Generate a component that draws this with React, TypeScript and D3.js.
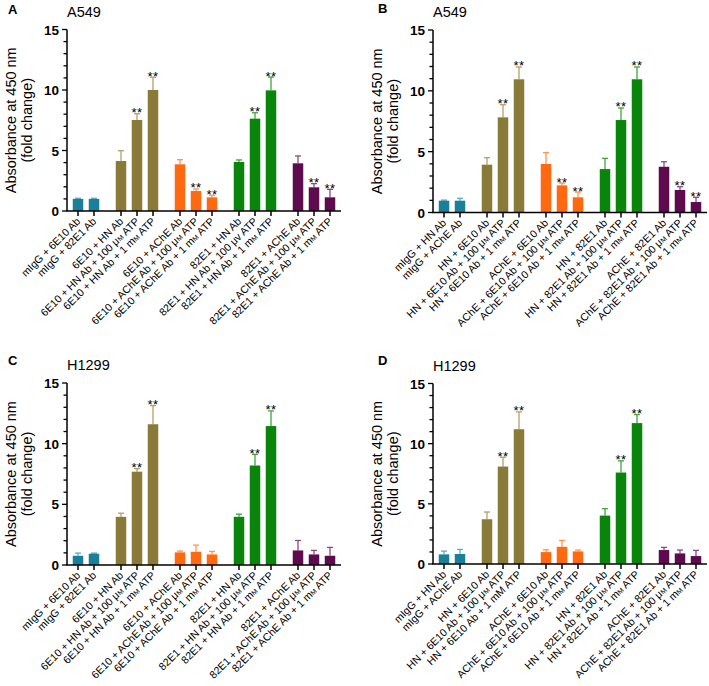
import React from "react";
import * as d3 from "d3";

const groupSizes = [2, 3, 3, 3, 3];
const groupColors = ["#1a7f98", "#8a7a3a", "#ff6a10", "#0a850c", "#5e0a4e"];
const errColors = ["#5aaec2", "#b0a168", "#ff9450", "#3fa53f", "#8b4a7f"];
const yTicks = [0, 5, 10, 15];

const labelsA = [
  "mIgG + 6E10 Ab", "mIgG + 82E1 Ab",
  "6E10 + HN Ab", "6E10 + HN Ab + 100 μ{m} ATP", "6E10 + HN Ab + 1 m{m} ATP",
  "6E10 + AChE Ab", "6E10 + AChE Ab + 100 μ{m} ATP", "6E10 + AChE Ab + 1 m{m} ATP",
  "82E1 + HN Ab", "82E1 + HN Ab + 100 μv ATP", "82E1 + HN Ab + 1 m{m} ATP",
  "82E1 + AChE Ab", "82E1 + AChE Ab + 100 μ{m} ATP", "82E1 + AChE Ab + 1 m{m} ATP",
];
const labelsC = [
  "mIgG + 6E10 Ab", "mIgG + 82E1 Ab",
  "6E10 + HN Ab", "6E10 + HN Ab + 100 μ{m} ATP", "6E10 + HN Ab + 1 m{m} ATP",
  "6E10 + AChE Ab", "6E10 + AChE Ab + 100 μ{m} ATP", "6E10 + AChE Ab + 1 m{m} ATP",
  "82E1 + HN Ab", "82E1 + HN Ab + 100 μ{m} ATP", "82E1 + HN Ab + 1 m{m} ATP",
  "82E1 + AChE Ab", "82E1 + AChE Ab + 100 μ{m} ATP", "82E1 + AChE Ab + 1 m{m} ATP",
];
const labelsB = [
  "mIgG + HN Ab", "mIgG + AChE Ab",
  "HN + 6E10 Ab", "HN + 6E10 Ab + 100 μ{m} ATP", "HN + 6E10 Ab + 1 m{m} ATP",
  "AChE + 6E10 Ab", "AChE + 6E10 Ab + 100 μ{m} ATP", "AChE + 6E10 Ab + 1 m{m} ATP",
  "HN + 82E1 Ab", "HN + 82E1 Ab + 100 μ{m} ATP", "HN + 82E1 Ab + 1 m{m} ATP",
  "AChE + 82E1 Ab", "AChE + 82E1 Ab + 100 μ{m} ATP", "AChE + 82E1 Ab + 1 m{m} ATP",
];
const labelsD = [
  "mIgG + HN Ab", "mIgG + AChE Ab",
  "HN + 6E10 Ab", "HN + 6E10 Ab + 100 μ{m} ATP", "HN + 6E10 Ab + 1 mM ATP",
  "AChE + 6E10 Ab", "AChE + 6E10 Ab + 100 μ{m} ATP", "AChE + 6E10 Ab + 1 m{m} ATP",
  "HN + 82E1 Ab", "HN + 82E1 Ab + 100 μ{m} ATP", "HN + 82E1 Ab + 1 m{m} ATP",
  "AChE + 82E1 Ab", "AChE + 82E1 Ab + 100 μ{m} ATP", "AChE + 82E1 Ab + 1 m{m} ATP",
];

const valuesA = [1.0, 1.0, 4.13, 7.52, 10.0, 3.86, 1.65, 1.13, 4.05, 7.63, 9.97, 3.94, 1.96, 1.13];
const errorsA = [0.05, 0.05, 0.85, 0.52, 1.05, 0.38, 0.17, 0.17, 0.17, 0.49, 1.1, 0.61, 0.3, 0.66];
const valuesB = [0.97, 0.97, 3.93, 7.82, 10.95, 3.99, 2.23, 1.25, 3.57, 7.6, 10.95, 3.76, 1.85, 0.86];
const errorsB = [0.05, 0.2, 0.57, 1.04, 1.01, 0.93, 0.19, 0.43, 0.88, 0.99, 1.01, 0.41, 0.27, 0.39];
const valuesC = [0.76, 0.93, 3.97, 7.69, 11.6, 1.04, 1.09, 0.87, 3.97, 8.2, 11.45, 1.2, 0.87, 0.76];
const errorsC = [0.22, 0.05, 0.3, 0.25, 1.54, 0.11, 0.55, 0.25, 0.22, 0.92, 1.25, 0.82, 0.33, 0.69];
const valuesD = [0.8, 0.83, 3.72, 8.1, 11.2, 0.99, 1.43, 1.05, 4.02, 7.6, 11.71, 1.16, 0.88, 0.66];
const errorsD = [0.27, 0.38, 0.6, 0.77, 1.44, 0.19, 0.53, 0.11, 0.58, 0.97, 0.71, 0.22, 0.28, 0.47];

const starsAB = [0, 0, 0, 1, 1, 0, 1, 1, 0, 1, 1, 0, 1, 1];
const starsCD = [0, 0, 0, 1, 1, 0, 0, 0, 0, 1, 1, 0, 0, 0];

const FONT = "'Liberation Sans', Arial, Helvetica, sans-serif";

function renderLabel(s: string) {
  const parts = s.split(/\{(.+?)\}/);
  return parts.map((p, i) =>
    i % 2 === 1 ? (
      <tspan key={i} style={{ fontVariant: "small-caps" }}>{p}</tspan>
    ) : (
      <tspan key={i}>{p}</tspan>
    )
  );
}

type PanelProps = {
  letter: string;
  title: string;
  labels: string[];
  values: number[];
  errors: number[];
  stars: number[];
  axisX: number;
  y0: number;
  yTop: number;
  letterX: number;
  letterY: number;
  titleY: number;
};

function Panel(p: PanelProps) {
  const y = d3.scaleLinear().domain([0, 15]).range([p.y0, p.yTop]);
  const gapFrac = 11 / 16;
  const slots: number[] = [];
  const groupOf: number[] = [];
  let idx = 0;
  groupSizes.forEach((n, g) => {
    for (let k = 0; k < n; k++) {
      slots.push(idx + g * gapFrac);
      groupOf.push(g);
      idx++;
    }
  });
  const maxSlot = slots[slots.length - 1];
  const x = d3.scaleLinear().domain([0, maxSlot]).range([p.axisX + 11, p.axisX + 263]);
  const barW = 10.5;
  const capW = 6;
  const axisEnd = p.axisX + 274;
  const minor = d3.range(0, 16, 1);
  const midY = (p.y0 + p.yTop) / 2;

  return (
    <g fontFamily={FONT}>
      <text x={p.letterX} y={p.letterY} fontSize={13} fontWeight="bold">{p.letter}</text>
      <text x={p.axisX} y={p.titleY} fontSize={14.5}>{p.title}</text>
      <text
        transform={`translate(${p.axisX - 51},${midY}) rotate(-90)`}
        textAnchor="middle"
        fontSize={14.5}
      >
        Absorbance at 450 nm
      </text>
      <text
        transform={`translate(${p.axisX - 35},${midY}) rotate(-90)`}
        textAnchor="middle"
        fontSize={14.5}
      >
        (fold change)
      </text>
      {p.values.map((v, i) => {
        const cx = x(slots[i]);
        const g = groupOf[i];
        const top = y(v);
        const et = y(v + p.errors[i]);
        return (
          <g key={i}>
            <line x1={cx} x2={cx} y1={top} y2={et} stroke={errColors[g]} strokeWidth={1.3} />
            <line x1={cx - capW / 2} x2={cx + capW / 2} y1={et} y2={et} stroke={errColors[g]} strokeWidth={1.3} />
            <rect x={cx - barW / 2} y={top} width={barW} height={p.y0 - top} fill={groupColors[g]} />
            {p.stars[i] ? (
              <text x={cx} y={et + 3.5} textAnchor="middle" fontSize={13} letterSpacing={0.5}>**</text>
            ) : null}
            <line x1={cx} x2={cx} y1={p.y0} y2={p.y0 + 5} stroke="#000" strokeWidth={1.5} />
            <text
              transform={`translate(${cx + 3},${p.y0 + 11}) rotate(-45)`}
              textAnchor="end"
              fontSize={10.6}
            >
              {renderLabel(p.labels[i])}
            </text>
          </g>
        );
      })}
      <line x1={p.axisX} x2={p.axisX} y1={p.y0} y2={y(15)} stroke="#000" strokeWidth={1.5} />
      {minor.map((t) => (
        <line
          key={t}
          x1={p.axisX - (t % 5 === 0 ? 5 : 3.5)}
          x2={p.axisX}
          y1={y(t)}
          y2={y(t)}
          stroke="#000"
          strokeWidth={1.3}
        />
      ))}
      {yTicks.map((t) => (
        <text key={t} x={p.axisX - 8} y={y(t) + 5} textAnchor="end" fontSize={13.5} fontWeight="bold">
          {t}
        </text>
      ))}
      <line x1={p.axisX - 0.75} x2={axisEnd} y1={p.y0} y2={p.y0} stroke="#000" strokeWidth={1.5} />
    </g>
  );
}

export default function App() {
  return (
    <svg
      width={709}
      height={686}
      style={{ position: "absolute", left: 0, top: 0, background: "#fff" }}
    >
      <rect width={709} height={686} fill="#fff" />
      <Panel letter="A" title="A549" labels={labelsA} values={valuesA} errors={errorsA} stars={starsAB}
        axisX={67} y0={211} yTop={29.5} letterX={8} letterY={14} titleY={17} />
      <Panel letter="B" title="A549" labels={labelsB} values={valuesB} errors={errorsB} stars={starsAB}
        axisX={433} y0={212.5} yTop={30} letterX={378} letterY={13} titleY={17} />
      <Panel letter="C" title="H1299" labels={labelsC} values={valuesC} errors={errorsC} stars={starsCD}
        axisX={67} y0={565} yTop={383} letterX={8} letterY={365} titleY={370} />
      <Panel letter="D" title="H1299" labels={labelsD} values={valuesD} errors={errorsD} stars={starsCD}
        axisX={433} y0={564} yTop={383.5} letterX={378} letterY={365} titleY={371} />
    </svg>
  );
}
